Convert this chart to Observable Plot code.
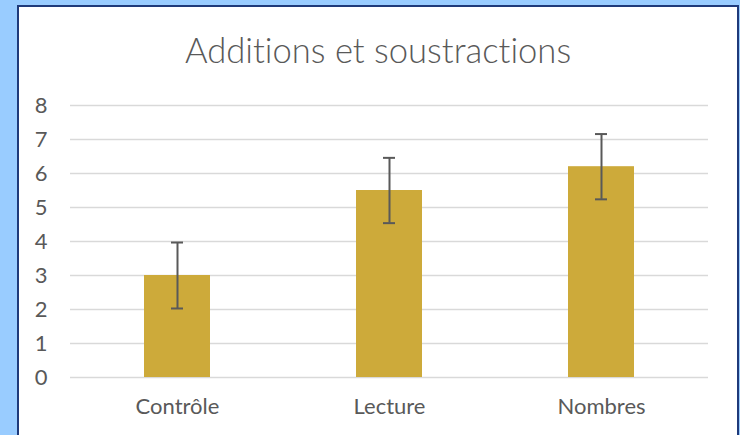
<!DOCTYPE html>
<html>
<head>
<meta charset="utf-8">
<script src="https://cdn.jsdelivr.net/npm/d3@7"></script>
<script src="https://cdn.jsdelivr.net/npm/@observablehq/plot@0.6"></script>
<style>
  html, body { margin: 0; padding: 0; }
  body { width: 740px; height: 435px; background: #99CCFF; overflow: hidden; position: relative; font-family: Lato, "Open Sans", sans-serif; }
  #panel { position: absolute; left: 17px; top: 5px; width: 718px; height: 440px; background: #fff; border: 2px solid #1F3A7A; border-bottom: none; }
  #title { position: absolute; left: 0; top: 23px; width: 100%; text-align: center; font-size: 34.6px; color: #595959; font-weight: 300; line-height: 40px; font-variant-ligatures: none; }
  #chart { position: absolute; left: 0; top: 78px; }
</style>
</head>
<body>
<div id="panel">
  <div id="title">Additions et soustractions</div>
  <div id="chart"></div>
</div>
<script>
const categories = ["Contrôle", "Lecture", "Nombres"];
const means = [3.0, 5.5, 6.2];
const errors = [0.97, 0.96, 0.96];
const yTicks = [0, 1, 2, 3, 4, 5, 6, 7, 8];

const data = categories.map((c, i) => ({cat: c, v: means[i], lo: means[i] - errors[i], hi: means[i] + errors[i]}));

const chart = Plot.plot({
  width: 718,
  height: 350,
  marginLeft: 51,
  marginRight: 29,
  marginTop: 20,
  marginBottom: 58,
  style: {fontFamily: "Lato, 'Open Sans', sans-serif", color: "#595959", background: "transparent", fontVariantLigatures: "none"},
  x: {domain: categories, paddingInner: 0.69, paddingOuter: 0.345},
  y: {domain: [0, 8]},
  marks: [
    Plot.gridY(yTicks, {stroke: "#D9D9D9", strokeOpacity: 1, strokeWidth: 1.3}),
    Plot.barY(data, {x: "cat", y: "v", fill: "#CDAA3A"}),
    Plot.ruleX(data, {x: "cat", y1: "lo", y2: "hi", stroke: "#595959", strokeWidth: 2}),
    Plot.tickY(data, {x: "cat", y: "lo", stroke: "#595959", strokeWidth: 2, insetLeft: 27, insetRight: 27}),
    Plot.tickY(data, {x: "cat", y: "hi", stroke: "#595959", strokeWidth: 2, insetLeft: 27, insetRight: 27}),
    Plot.axisY(yTicks, {fontSize: 22, tickSize: 0, tickPadding: 23, label: null, fill: "#595959"}),
    Plot.axisX({fontSize: 22, tickSize: 0, tickPadding: 21, label: null, fill: "#595959"})
  ]
});
document.getElementById("chart").appendChild(chart);
</script>
</body>
</html>
